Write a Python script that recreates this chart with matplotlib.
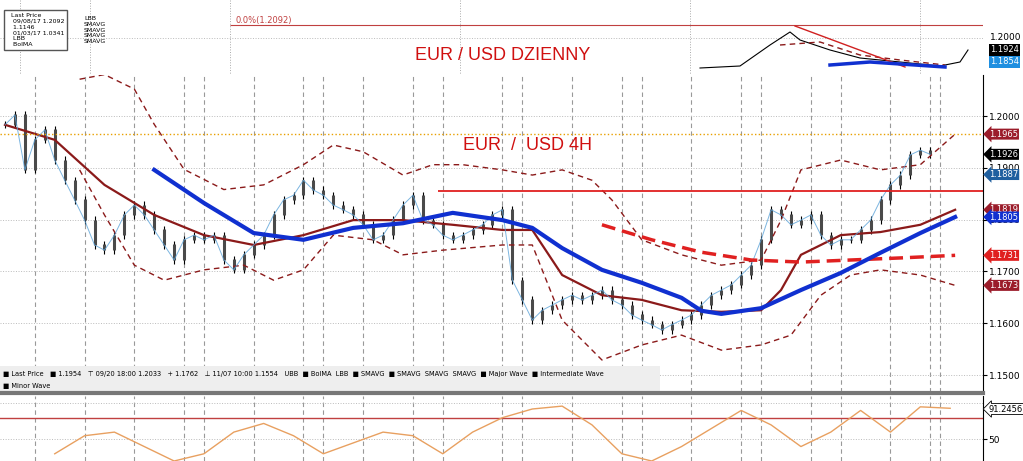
import matplotlib
matplotlib.use("Agg")
import matplotlib.pyplot as plt
import numpy as np

closes = [1.1983,1.2002,1.1896,1.1954,1.1973,1.1915,1.1876,1.1838,1.1799,1.1751,1.1741,1.1770,1.1809,1.1828,1.1809,1.1780,
1.1751,1.1722,1.1761,1.1770,1.1761,1.1770,1.1722,1.1703,1.1732,1.1751,1.1770,1.1809,1.1838,1.1847,1.1876,1.1857,1.1847,
1.1828,1.1819,1.1809,1.1790,1.1761,1.1770,1.1799,1.1828,1.1847,1.1799,1.1790,1.1770,1.1761,1.1770,1.1780,1.1790,1.1809,
1.1819,1.1683,1.1645,1.1606,1.1625,1.1635,1.1645,1.1654,1.1645,1.1654,1.1664,1.1645,1.1635,1.1616,1.1606,1.1597,1.1587,
1.1597,1.1606,1.1616,1.1635,1.1654,1.1664,1.1674,1.1693,1.1712,1.1761,1.1819,1.1809,1.1790,1.1799,1.1809,1.1770,1.1751,
1.1761,1.1761,1.1780,1.1799,1.1838,1.1867,1.1886,1.1925,1.1934,1.1926]

sma_x = [15,20,25,30,35,40,45,50,53,56,60,64,68,70,72,76,80,84,88,92,95.5]
sma_y = [1.1896,1.1832,1.1774,1.1761,1.1784,1.1793,1.1813,1.1799,1.1784,1.1745,1.1703,1.1678,1.1649,1.1624,1.1618,1.1629,1.1664,1.1697,1.1736,1.1774,1.1805]
long_x = [60,65,70,75,80,85,90,95.5]
long_y = [1.1790,1.1761,1.1737,1.1722,1.1718,1.1722,1.1726,1.1731]
bolma_x = [0,5,10,15,20,25,30,35,40,45,50,53,56,60,64,68,72,76,78,80,84,88,92,95.5]
bolma_y = [1.1983,1.1954,1.1867,1.1809,1.1770,1.1751,1.1770,1.1799,1.1799,1.1790,1.1780,1.1780,1.1693,1.1654,1.1645,1.1625,1.1622,1.1625,1.1664,1.1732,1.1770,1.1776,1.1790,1.1819]
ubb_x = [7.5,10,13,15,18,22,26,30,33,36,40,43,46,50,53,56,59,61,64,68,72,76,78,80,84,88,92,95.5]
ubb_y = [1.2071,1.2080,1.2052,1.1984,1.1897,1.1858,1.1867,1.1906,1.1944,1.1931,1.1886,1.1906,1.1906,1.1896,1.1886,1.1896,1.1876,1.1838,1.1761,1.1732,1.1712,1.1722,1.1799,1.1896,1.1915,1.1896,1.1906,1.1965]
lbb_x = [7.5,10,13,16,20,24,27,30,33,37,40,44,50,53,56,60,64,68,72,76,79,82,85,88,92,95.5]
lbb_y = [1.1896,1.1809,1.1712,1.1683,1.1703,1.1712,1.1683,1.1703,1.1770,1.1761,1.1732,1.1741,1.1751,1.1751,1.1606,1.1529,1.1558,1.1577,1.1548,1.1558,1.1577,1.1654,1.1693,1.1703,1.1693,1.1673]

labels = [(1.1965,'#9b1c2a','1.1965'),(1.1926,'black','1.1926'),(1.1887,'#1f5f9f','1.1887'),
          (1.1819,'#9b1c2a','1.1819'),(1.1805,'#1030d0','1.1805'),(1.1731,'#e02020','1.1731'),(1.1673,'#9b1c2a','1.1673')]
yticks = [1.2000,1.1900,1.1800,1.1700,1.1600,1.1500]
grid_x = [-3,3,8,13,18,20,25,30,32,36,41,44,50,52,57,62,64,69,74,76,81,84,89,93,94]

W, H = 1023, 461
fig = plt.figure(figsize=(W/100, H/100), dpi=100)
fig.patch.set_facecolor('white')
def fa(l, t, r, b):
    return fig.add_axes([l/W, 1-b/H, (r-l)/W, (b-t)/H])

# main panel
ax = fa(0, 75, 983, 392)
ax.set_xlim(-0.5, 98.3)
ax.set_ylim(1.2 - 276/5180, 1.2 + 41/5180)
n = len(closes)
opens = [closes[0]] + closes[:-1]
for i in range(n):
    hi = max(opens[i], closes[i]); lo = min(opens[i], closes[i])
    ax.vlines(i, lo - 0.0007, hi + 0.0007, color='black', lw=0.8)
    ax.vlines(i, lo, hi + 0.0001, color='#4a4a4a', lw=2.2)
for gx in grid_x:
    ax.axvline(gx, color='#999999', ls=(0, (4, 3)), lw=0.8, zorder=0)
for yt in yticks:
    ax.axhline(yt, color='#bbbbbb', ls=':', lw=0.7, zorder=0)
ax.plot(ubb_x, ubb_y, color='#8b1a1a', ls=(0, (4, 3)), lw=1)
ax.plot(lbb_x, lbb_y, color='#8b1a1a', ls=(0, (4, 3)), lw=1)
ax.plot(bolma_x, bolma_y, color='#8b1a1a', lw=1.6)
ax.plot(range(n), closes, color='#5ba3d9', lw=0.7, alpha=0.8)
ax.plot(long_x, long_y, color='#e02020', ls=(0, (4, 2)), lw=2.5)
ax.plot(sma_x, sma_y, color='#1030d0', lw=3)
ax.hlines(1.1856, 43.5, 98.5, color='#e02020', lw=1.3)
ax.axhline(1.1965, color='#e8a000', ls=':', lw=1)
ax.text(46, 1.1935, 'EUR  /  USD 4H', color='#d01010', fontsize=13, family='Liberation Sans')
ax.yaxis.tick_right()
ax.set_yticks(yticks)
ax.set_yticklabels(['%.4f' % v for v in yticks], fontsize=6.5)
ax.tick_params(axis='y', pad=1, length=3)
ax.set_xticks([])
for s in ax.spines.values():
    s.set_visible(False)
ax.spines['right'].set_visible(True)
for p, c, t in labels:
    ax.text(98.9, p, t, color='white', fontsize=6, va='center', ha='left',
            bbox=dict(boxstyle='larrow,pad=0.12', fc=c, ec='none'), clip_on=False)

# top daily panel
top = fa(0, 0, 983, 75)
top.set_xlim(0, 983); top.set_ylim(75, 0)
top.axis('off')
top.hlines(25, 230, 983, color='#c04040', lw=0.8)
top.text(235, 23, '0.0%(1.2092)', color='#c04040', fontsize=6)
for gx in [20, 90, 230, 460, 690, 920]:
    top.vlines(gx, 0, 75, color='#aaaaaa', ls=':', lw=0.7)
top.hlines(38, 0, 983, color='#bbbbbb', ls=':', lw=0.7)
top.text(415, 60, 'EUR / USD DZIENNY', color='#d01010', fontsize=13, family='Liberation Sans')
top.text(7, 30, '  Last Price\n   09/08/17 1.2092\n   1.1146\n   01/03/17 1.0341\n   LBB\n   BolMA',
         fontsize=4.5, va='center', bbox=dict(fc='white', ec='#555555', pad=2))
top.text(84, 30, 'LBB\nSMAVG\nSMAVG\nSMAVG\nSMAVG', fontsize=4.5, va='center')
dx = [700, 740, 770, 790, 800, 830, 860, 900, 940, 960, 968]
dy = [68, 66, 45, 32, 40, 50, 58, 62, 66, 62, 50]
top.plot(dx, dy, color='black', lw=0.8)
top.plot([780, 820, 860, 900, 945], [45, 42, 55, 60, 65], color='#8b1a1a', ls=(0, (4, 3)), lw=1)
top.plot([795, 905], [26, 67], color='#d02020', lw=1)
top.plot([830, 870, 945], [65, 62, 67], color='#1030d0', lw=2.5)
top.text(990, 38, '1.2000', fontsize=6.5, va='center')
top.text(990, 50, '1.1924', color='white', fontsize=6, va='center', bbox=dict(fc='black', ec='none', pad=1))
top.text(990, 62, '1.1854', color='white', fontsize=6, va='center', bbox=dict(fc='#1f8fe0', ec='none', pad=1))

# legend strip
leg = fa(0, 366, 660, 392)
leg.set_facecolor('#eeeeee'); leg.set_xticks([]); leg.set_yticks([])
for s in leg.spines.values(): s.set_visible(False)
leg.text(0.005, 0.68, '■ Last Price   ■ 1.1954   ⊤ 09/20 18:00 1.2033   + 1.1762   ⊥ 11/07 10:00 1.1554   UBB  ■ BolMA  LBB  ■ SMAVG  ■ SMAVG  SMAVG  SMAVG  ■ Major Wave  ■ Intermediate Wave',
         fontsize=4.8, va='center')
leg.text(0.005, 0.22, '■ Minor Wave', fontsize=4.8, va='center', color='black')
fig.add_artist(plt.Line2D([0, 983/W], [1-393/H, 1-393/H], color='#777777', lw=3))

# oscillator
osc = fa(0, 396, 983, 461)
osc.set_xlim(-0.5, 98.3); osc.set_ylim(20, 110)
for gx in grid_x:
    osc.axvline(gx, color='#999999', ls=(0, (4, 3)), lw=0.8, zorder=0)
osc.axhline(80, color='#c04040', lw=1)
osc.axhline(100, color='#bbbbbb', ls=':', lw=0.7)
osc.axhline(50, color='#bbbbbb', ls=':', lw=0.7)
ox = [5, 8, 11, 14, 17, 20, 23, 26, 29, 32, 35, 38, 41, 44, 47, 50, 53, 56, 59, 62, 65, 68, 71, 74, 77, 80, 83, 86, 89, 92, 95]
oy = [30, 55, 60, 40, 20, 30, 60, 72, 55, 30, 45, 60, 55, 30, 60, 80, 92, 96, 70, 30, 20, 40, 65, 90, 70, 40, 60, 90, 60, 95, 93]
osc.plot(ox, oy, color='#e8a060', lw=1)
osc.yaxis.tick_right(); osc.set_yticks([50]); osc.set_yticklabels(['50'], fontsize=6.5); osc.set_xticks([])
osc.tick_params(axis='y', pad=1, length=3)
for s in osc.spines.values(): s.set_visible(False)
osc.spines['right'].set_visible(True)
osc.text(98.9, 92, '91.2456', fontsize=6, va='center', bbox=dict(boxstyle='larrow,pad=0.12', fc='white', ec='black', lw=0.6), clip_on=False)

fig.savefig('out.png', dpi=100)
